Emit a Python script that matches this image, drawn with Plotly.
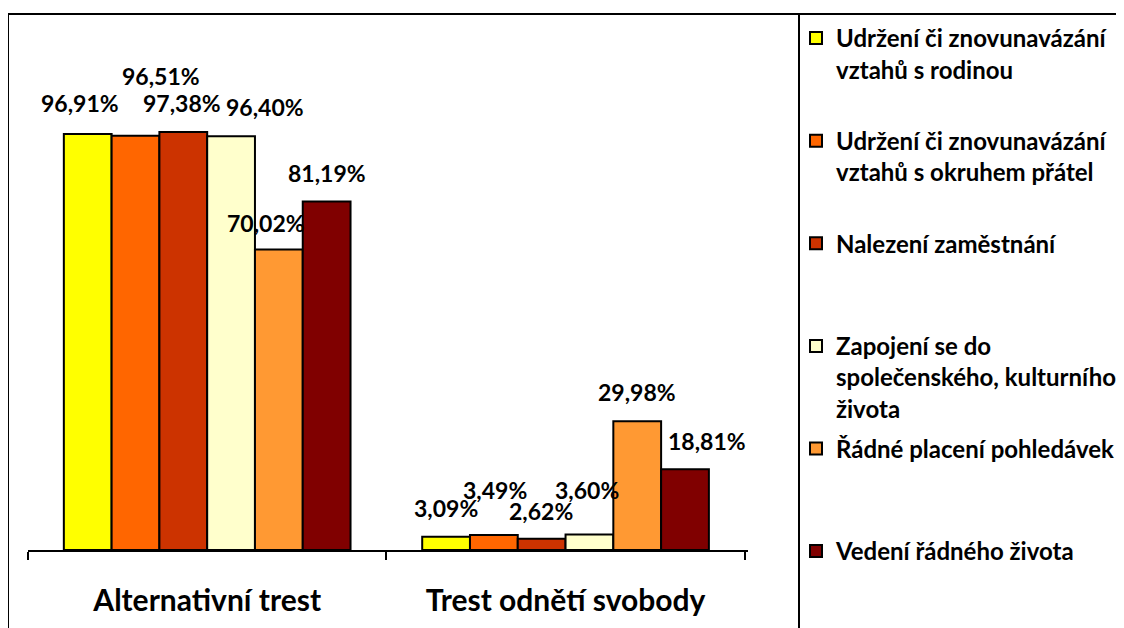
"""
Grouped bar chart - alternativní trest vs. trest odnětí svobody
"""

import plotly.graph_objects as go

# data
categories = ['Alternativní trest', 'Trest odnětí svobody']

series_names = [
    'Udržení či znovunavázání<br>vztahů s rodinou',
    'Udržení či znovunavázání<br>vztahů s okruhem přátel',
    'Nalezení zaměstnání',
    'Zapojení se do<br>společenského, kulturního<br>života',
    'Řádné placení pohledávek',
    'Vedení řádného života',
]

values_alternativni = [96.91, 96.51, 97.38, 96.40, 70.02, 81.19]
values_odneti = [3.09, 3.49, 2.62, 3.60, 29.98, 18.81]

# styling
COLORS = ['#FFFF00', '#FF6600', '#CC3300', '#FFFFCC', '#FF9933', '#800000']
FONT = 'Lato'

# page body has an 8px margin, so the figure is a bit smaller than the window
BODY = 8
W, H = 1124 - BODY, 628 - BODY
MARGIN = dict(l=20, r=376, t=27, b=78)
Y_MAX = 120

# label offsets in px (dx, dy above bar top) - mimic the excel label layout
LABEL_SHIFT = [
    [(-8, 31), (25, 60), (-1, 29), (34, 29), (-13, 27), (0, 29)],
    [(0, 29), (1, 45), (-1, 28), (-2, 45), (0, 29), (22, 28)],
]

plot_w = W - MARGIN['l'] - MARGIN['r']
plot_h = H - MARGIN['t'] - MARGIN['b']


def px_x(px):
    # screen px -> paper x
    return (px - BODY - MARGIN['l']) / plot_w


def px_y(py):
    # screen px -> paper y
    return (H - MARGIN['b'] - (py - BODY)) / plot_h


def pad_lines(name, n=3):
    # equal legend slots like excel
    lines = name.count('<br>') + 1
    return name + '<br> ' * (n - lines)


fig = go.Figure()

n = len(series_names)
for i, name in enumerate(series_names):
    fig.add_trace(
        go.Bar(
            x=categories,
            y=[values_alternativni[i], values_odneti[i]],
            name=pad_lines(name) if i < n - 1 else name,
            legendgroup=f'g{i}',
            marker=dict(color=COLORS[i], line=dict(color='black', width=2)),
            hoverinfo='skip',
        )
    )

# data labels
bar_w = 0.8 / n
for c, vals in enumerate([values_alternativni, values_odneti]):
    for i, v in enumerate(vals):
        dx, dy = LABEL_SHIFT[c][i]
        fig.add_annotation(
            x=c + (i - (n - 1) / 2) * bar_w,
            y=v,
            text=f'{v:.2f}%'.replace('.', ','),
            showarrow=False,
            xshift=dx,
            yshift=dy,
            font=dict(family=FONT, size=23, color='black', weight='bold'),
        )

# outer frame + legend frame
fig.add_shape(
    type='rect', xref='paper', yref='paper',
    x0=px_x(8), x1=px_x(1124 + 20), y0=px_y(628 + 20), y1=px_y(14),
    line=dict(color='black', width=2),
)
fig.add_shape(
    type='line', xref='paper', yref='paper',
    x0=px_x(799), x1=px_x(799), y0=px_y(628 + 20), y1=px_y(14),
    line=dict(color='black', width=2),
)

fig.update_layout(
    width=W,
    height=H,
    margin=dict(**MARGIN, autoexpand=False),
    paper_bgcolor='white',
    plot_bgcolor='white',
    barmode='group',
    bargap=0.2,
    bargroupgap=0,
    xaxis=dict(
        showline=True,
        linecolor='black',
        linewidth=2,
        ticks='outside',
        tickson='boundaries',
        ticklen=8,
        tickwidth=2,
        tickcolor='black',
        ticklabelstandoff=23,
        tickfont=dict(family=FONT, size=30, color='black', weight='bold'),
        showgrid=False,
        zeroline=False,
        fixedrange=True,
    ),
    yaxis=dict(
        range=[0, Y_MAX],
        visible=False,
        fixedrange=True,
    ),
    showlegend=True,
    legend=dict(
        x=px_x(796),
        y=px_y(16),
        xanchor='left',
        yanchor='top',
        traceorder='grouped',
        tracegroupgap=6,
        valign='top',
        maxheight=H,
        bgcolor='rgba(0,0,0,0)',
        font=dict(family=FONT, size=24, color='black', weight='bold'),
    ),
)

fig.write_html('out.html')
